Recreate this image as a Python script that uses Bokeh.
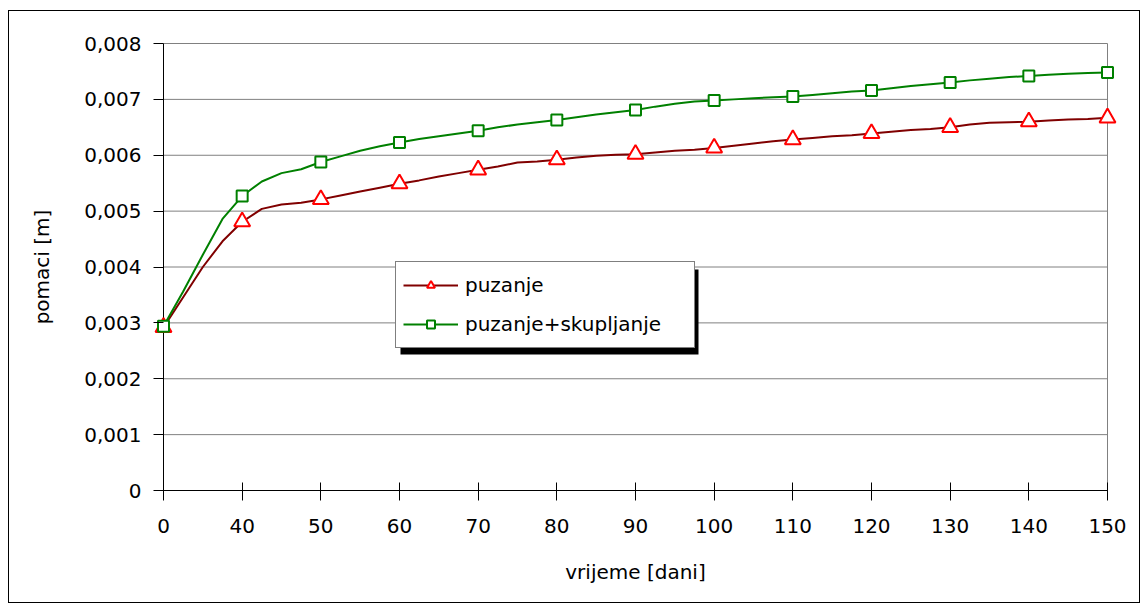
import numpy as np
from bokeh.plotting import figure
from bokeh.models import (Range1d, FixedTicker, CustomJSTickFormatter, Legend,
                          LegendItem, BoxAnnotation, InlineStyleSheet)
from bokeh.embed import file_html
from bokeh.resources import INLINE

# ---- data -------------------------------------------------------------
# labelled days on the category axis
day_labels = ["0", "40", "50", "60", "70", "80", "90", "100",
              "110", "120", "130", "140", "150"]
SUB = 4  # samples per labelled interval (markers only on labelled days)

# displacement [m], creep only
puzanje = [0.00292, 0.00346, 0.00400, 0.00446, 0.00481, 0.00504, 0.00512, 0.00515,
           0.00521, 0.00528, 0.00535, 0.00542, 0.00549, 0.00555, 0.00562, 0.00568,
           0.00574, 0.00580, 0.00587, 0.00589, 0.00592, 0.00596, 0.00599, 0.00601,
           0.00602, 0.00605, 0.00608, 0.00610, 0.00613, 0.00617, 0.00621, 0.00625,
           0.00628, 0.00631, 0.00634, 0.00636, 0.00639, 0.00642, 0.00645, 0.00647,
           0.00650, 0.00655, 0.00658, 0.00659, 0.00660, 0.00662, 0.00664, 0.00665,
           0.00667]

# displacement [m], creep + shrinkage
puzanje_skupljanje = [0.00294, 0.00356, 0.00422, 0.00486, 0.00527, 0.00553, 0.00568, 0.00575,
                      0.00588, 0.00598, 0.00608, 0.00616, 0.00623, 0.00629, 0.00634, 0.00639,
                      0.00644, 0.00650, 0.00655, 0.00659, 0.00663, 0.00668, 0.00673, 0.00677,
                      0.00681, 0.00687, 0.00692, 0.00696, 0.00698, 0.00700, 0.00702, 0.00704,
                      0.00705, 0.00708, 0.00711, 0.00714, 0.00716, 0.00720, 0.00724, 0.00727,
                      0.00730, 0.00734, 0.00737, 0.00740, 0.00742, 0.00744, 0.00746, 0.00747,
                      0.00748]

y_ticks = [0.0, 0.001, 0.002, 0.003, 0.004, 0.005, 0.006, 0.007, 0.008]

# ---- geometry ---------------------------------------------------------
W, H = 1148, 613
BL, BR, BT, BB = 153, 31, 33, 113     # borders around the frame
PAD = 10                              # frame padding so end markers are not clipped
FONT = "DejaVu Sans"
FS = "20px"

pos = np.arange(len(puzanje)) / SUB
pos_m = pos[::SUB]
n_cat = len(day_labels) - 1
y_max = y_ticks[-1]

frame_w = W - BL - BR
frame_h = H - BT - BB
padx = PAD * n_cat / (frame_w - 2 * PAD)
pady = PAD * y_max / (frame_h - 2 * PAD)

p = figure(width=W, height=H, output_backend="svg", toolbar_location=None,
           x_range=Range1d(-padx, n_cat + padx), y_range=Range1d(-pady, y_max + pady),
           min_border_left=BL, min_border_right=BR, min_border_top=BT, min_border_bottom=BB,
           background_fill_color="white", border_fill_color="white")
p.outline_line_color = None
p.xgrid.visible = False
p.ygrid.visible = False
# thin black chart border
p.stylesheets = [InlineStyleSheet(css="""
:host { position: relative; }
:host::after { content: ""; position: absolute; left: 8px; top: 10px; right: 8px; bottom: 10px;
               border: 1px solid black; pointer-events: none; z-index: 10; }
""")]

# horizontal grid lines and right edge of the plot area
p.segment(x0=[pos[0]] * len(y_ticks), x1=[pos[-1]] * len(y_ticks), y0=y_ticks, y1=y_ticks,
          line_color="#808080", line_width=1)
p.segment(x0=[pos[-1]], x1=[pos[-1]], y0=[y_ticks[0]], y1=[y_max],
          line_color="#808080", line_width=1)
# axis lines at the data origin
p.segment(x0=[pos[0], pos[0]], x1=[pos[0], pos[-1]], y0=[y_ticks[0], y_ticks[0]],
          y1=[y_max, y_ticks[0]], line_color="black", line_width=1)

# series
l1 = p.line(pos, puzanje, line_color="#800000", line_width=2)
m1 = p.scatter(pos_m, puzanje[::SUB], marker="triangle", size=16,
               line_color="#ff0000", line_width=2, fill_color="white")
l2 = p.line(pos, puzanje_skupljanje, line_color="#008000", line_width=2)
m2 = p.scatter(pos_m, puzanje_skupljanje[::SUB], marker="square", size=11,
               line_color="#008000", line_width=2, fill_color="white")

# axes (drawn at the frame edge, ticks reach in to the axis lines)
xa = p.xaxis[0]
xa.bounds = (0, n_cat)
xa.ticker = FixedTicker(ticks=list(range(n_cat + 1)))
xa.formatter = CustomJSTickFormatter(args=dict(labels=day_labels),
                                     code="const i = Math.round(tick); return labels[i] ?? '';")
xa.axis_line_color = None
xa.major_tick_in = 18
xa.major_tick_out = 0
xa.minor_tick_line_color = None
xa.major_label_standoff = 18
xa.axis_label = "vrijeme [dani]"
xa.axis_label_standoff = 24

ya = p.yaxis[0]
ya.bounds = (0, y_max)
ya.ticker = FixedTicker(ticks=y_ticks)
ya.formatter = CustomJSTickFormatter(
    code="return tick == 0 ? '0' : tick.toFixed(3).replace('.', ',');")
ya.axis_line_color = None
ya.major_tick_in = 10
ya.major_tick_out = 0
ya.minor_tick_line_color = None
ya.major_label_standoff = 12
ya.axis_label = "pomaci [m]"
ya.axis_label_standoff = 27

for ax in (xa, ya):
    ax.major_tick_line_color = "black"
    ax.major_tick_line_width = 1
    ax.major_label_text_font = FONT
    ax.major_label_text_font_size = FS
    ax.major_label_text_color = "black"
    ax.axis_label_text_font = FONT
    ax.axis_label_text_font_size = FS
    ax.axis_label_text_font_style = "normal"
    ax.axis_label_text_color = "black"

# legend with drop shadow
LEG_L, LEG_T, LEG_W, LEG_H = 395, 263, 298, 85
LEG_PAD, LEG_GLYPH, LEG_STANDOFF = 7, 55, 7
shadow = BoxAnnotation(left=LEG_L + 5, right=LEG_L + LEG_W + 5,
                       top=LEG_T + 6, bottom=LEG_T + LEG_H + 6,
                       left_units="canvas", right_units="canvas",
                       top_units="canvas", bottom_units="canvas",
                       fill_color="black", fill_alpha=1, line_color=None,
                       editable=False)
p.add_layout(shadow)

legend = Legend(items=[LegendItem(label="puzanje", renderers=[l1, m1]),
                       LegendItem(label="puzanje+skupljanje", renderers=[l2, m2])],
                location=(LEG_L - BL, (H - BB) - (LEG_T + LEG_H)),
                margin=0, padding=LEG_PAD, spacing=7,
                label_height=32, glyph_height=20, glyph_width=LEG_GLYPH,
                label_standoff=LEG_STANDOFF,
                label_width=LEG_W - 2 * LEG_PAD - LEG_GLYPH - LEG_STANDOFF,
                label_text_font=FONT, label_text_font_size=FS, label_text_color="black",
                border_line_color="black", border_line_width=1,
                background_fill_color="white", background_fill_alpha=1)
p.add_layout(legend)

open("out.html", "w").write(file_html(p, INLINE))
